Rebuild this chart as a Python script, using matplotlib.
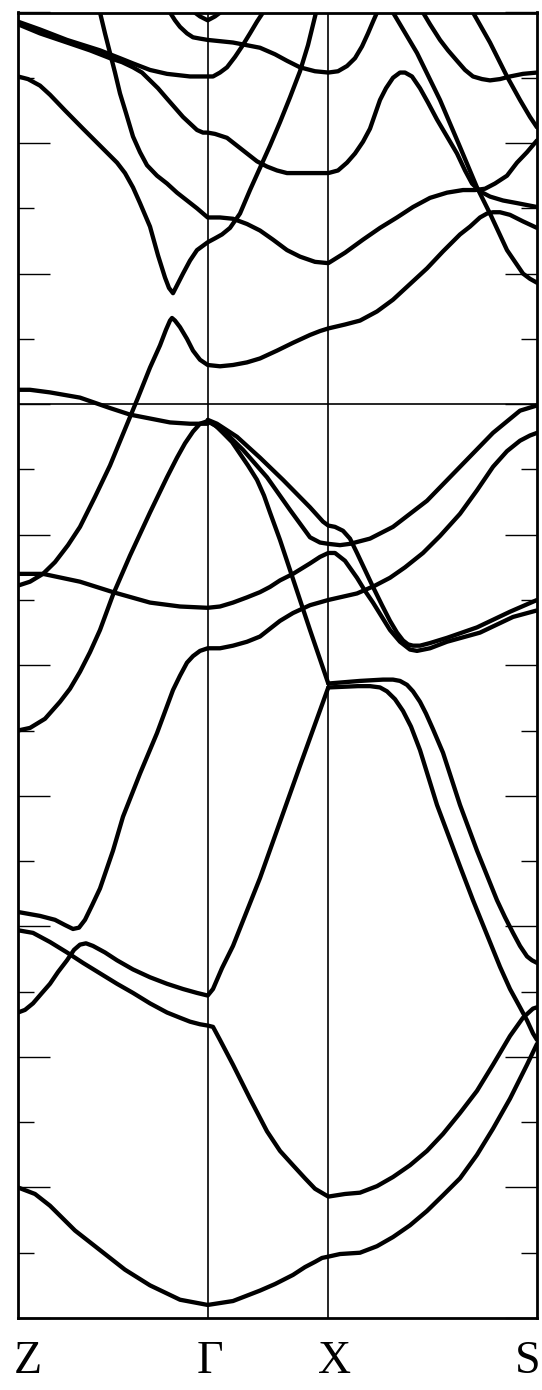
"""
Band structure along Z - Gamma - X - S, energies relative to E_F (eV).
Values read off the reference picture.
"""

import matplotlib
matplotlib.use("Agg")
import matplotlib.pyplot as plt
import matplotlib.ticker as ticker
import matplotlib.transforms as mtrans

# ── high-symmetry points (path coordinate) ──────────────────────────────────
K_POS    = [0.0, 1.897, 3.103, 5.19]
K_LABELS = ["Z", "Γ", "X", "S"]
E_MIN, E_MAX = -7.0, 3.0

# ── conduction bands ────────────────────────────────────────────────────────
cb_arc_k = [1.75, 1.82, 1.897, 1.97, 2.04]
cb_arc_e = [3.01, 2.97, 2.94, 2.97, 3.01]

cb_t2_k = [1.50, 1.52, 1.57, 1.62, 1.69, 1.75, 1.82, 1.897, 2.15, 2.42,
           2.57, 2.69, 2.82, 2.97, 3.103, 3.20, 3.29, 3.37, 3.44, 3.50,
           3.55, 3.59, 3.62]
cb_t2_e = [3.06, 3.00, 2.94, 2.89, 2.84, 2.81, 2.80, 2.79, 2.77, 2.73,
           2.68, 2.63, 2.58, 2.55, 2.54, 2.55, 2.59, 2.65, 2.74, 2.84,
           2.93, 3.00, 3.06]

cb_g77_k = [0, 0.22, 0.49, 0.82, 1.02, 1.15, 1.32, 1.49, 1.72, 1.897,
            1.95, 2.02, 2.09, 2.17, 2.24, 2.32, 2.39, 2.45, 2.48]
cb_g77_e = [2.93, 2.87, 2.79, 2.71, 2.65, 2.61, 2.56, 2.53, 2.51, 2.51,
            2.51, 2.54, 2.58, 2.66, 2.74, 2.84, 2.93, 3.00, 3.06]

cb_g133_k = [0, 0.22, 0.49, 0.72, 0.92, 1.04, 1.15, 1.24, 1.32, 1.40, 1.49,
             1.57, 1.65, 1.72, 1.79, 1.85, 1.897, 1.97, 2.09, 2.19, 2.29,
             2.39, 2.49, 2.59, 2.69, 2.92, 3.103, 3.20, 3.29, 3.37, 3.45,
             3.52, 3.62, 3.68, 3.75, 3.82, 3.87, 3.94, 4.02, 4.10, 4.19,
             4.29, 4.39, 4.47, 4.54, 4.62, 4.72, 4.85, 4.99, 5.19]
cb_g133_e = [2.91, 2.84, 2.77, 2.71, 2.65, 2.62, 2.58, 2.54, 2.48, 2.42,
             2.34, 2.27, 2.20, 2.15, 2.10, 2.08, 2.08, 2.07, 2.04, 1.98,
             1.92, 1.86, 1.82, 1.79, 1.77, 1.77, 1.77, 1.79, 1.85, 1.92,
             2.01, 2.11, 2.33, 2.42, 2.50, 2.54, 2.54, 2.51, 2.42, 2.31,
             2.18, 2.05, 1.92, 1.79, 1.69, 1.63, 1.59, 1.56, 1.54, 1.51]

cb_g217_k = [0.80, 0.82, 0.87, 0.92, 0.97, 1.02, 1.08, 1.15, 1.22, 1.29,
             1.39, 1.49, 1.59, 1.69, 1.79, 1.897, 2.02, 2.15, 2.29, 2.42,
             2.55, 2.69, 2.82, 2.97, 3.103, 3.27, 3.45, 3.62, 3.79, 3.95,
             4.12, 4.29, 4.45, 4.57, 4.67, 4.77, 4.89, 4.99, 5.09, 5.19]
cb_g217_e = [3.06, 3.00, 2.84, 2.69, 2.54, 2.38, 2.23, 2.05, 1.93, 1.83,
             1.75, 1.69, 1.62, 1.56, 1.50, 1.43, 1.43, 1.42, 1.38, 1.33,
             1.26, 1.18, 1.13, 1.09, 1.08, 1.16, 1.26, 1.35, 1.43, 1.51,
             1.58, 1.62, 1.64, 1.64, 1.65, 1.69, 1.75, 1.85, 1.93, 2.02]

cb_v_k = [0, 0.10, 0.22, 0.32, 0.47, 0.65, 0.82, 0.99, 1.07, 1.15, 1.22,
          1.32, 1.40, 1.47, 1.51, 1.55, 1.59, 1.65, 1.72, 1.79, 1.897,
          1.97, 2.04, 2.12, 2.22, 2.32, 2.42, 2.52, 2.62, 2.72, 2.82,
          2.90, 2.98, 3.00]
cb_v_e = [2.51, 2.49, 2.44, 2.37, 2.25, 2.11, 1.98, 1.85, 1.77, 1.66, 1.54,
          1.36, 1.14, 0.97, 0.89, 0.85, 0.91, 1.00, 1.10, 1.18, 1.24,
          1.27, 1.30, 1.35, 1.46, 1.64, 1.81, 1.98, 2.16, 2.35, 2.55,
          2.75, 3.00, 3.06]

cb_low_k = [0, 0.12, 0.25, 0.37, 0.50, 0.62, 0.77, 0.92, 1.06, 1.20, 1.32,
            1.42, 1.48, 1.52, 1.54, 1.57, 1.62, 1.69, 1.75, 1.82, 1.897,
            2.02, 2.15, 2.29, 2.42, 2.59, 2.75, 2.92, 3.02, 3.103, 3.27,
            3.42, 3.59, 3.75, 3.92, 4.09, 4.25, 4.42, 4.52, 4.62, 4.69,
            4.75, 4.82, 4.92, 5.05, 5.19]
cb_low_e = [-1.39, -1.36, -1.30, -1.21, -1.08, -0.94, -0.71, -0.47, -0.21,
            0.05, 0.28, 0.45, 0.57, 0.64, 0.66, 0.64, 0.59, 0.50, 0.41,
            0.34, 0.30, 0.29, 0.30, 0.32, 0.35, 0.41, 0.47, 0.53, 0.56,
            0.58, 0.61, 0.64, 0.71, 0.80, 0.92, 1.04, 1.17, 1.30, 1.36,
            1.43, 1.46, 1.47, 1.47, 1.45, 1.40, 1.35]

cb_s72_k = [4.02, 4.05, 4.12, 4.22, 4.30, 4.39, 4.47, 4.55, 4.64, 4.72,
            4.82, 4.92, 5.05, 5.19]
cb_s72_e = [3.06, 3.00, 2.91, 2.79, 2.71, 2.63, 2.56, 2.51, 2.49, 2.48,
            2.49, 2.51, 2.53, 2.54]

cb_s127_k = [4.52, 4.55, 4.72, 4.89, 5.02, 5.12, 5.19]
cb_s127_e = [3.06, 3.00, 2.77, 2.51, 2.33, 2.20, 2.12]

cb_s283_k = [3.72, 3.75, 3.99, 4.22, 4.42, 4.59, 4.72, 4.89, 5.05, 5.12,
             5.19]
cb_s283_e = [3.06, 3.00, 2.69, 2.33, 1.97, 1.66, 1.46, 1.18, 1.00, 0.96,
             0.93]

# ── valence bands ───────────────────────────────────────────────────────────
vb_z390_k = [0, 0.12, 0.32, 0.62, 0.92, 1.12, 1.32, 1.52, 1.72, 1.897]
vb_z390_e = [0.11, 0.11, 0.09, 0.05, -0.03, -0.08, -0.11, -0.14, -0.15,
             -0.15]

vb_z730_k = [0, 0.12, 0.27, 0.42, 0.52, 0.62, 0.72, 0.82, 0.95, 1.12, 1.32,
             1.49, 1.59, 1.67, 1.75, 1.82, 1.897]
vb_z730_e = [-2.50, -2.48, -2.41, -2.28, -2.18, -2.05, -1.90, -1.73, -1.46,
             -1.16, -0.83, -0.56, -0.41, -0.30, -0.21, -0.15, -0.13]

vb_z573_k = [0, 0.25, 0.62, 0.95, 1.32, 1.62, 1.897, 2.02, 2.15, 2.29, 2.42,
             2.52, 2.62, 2.75, 2.92, 3.02, 3.103, 3.17, 3.27, 3.39, 3.47,
             3.55, 3.72, 3.82, 3.92, 3.99, 4.12, 4.29, 4.62, 4.95, 5.19]
vb_z573_e = [-1.30, -1.30, -1.36, -1.44, -1.52, -1.55, -1.56, -1.55, -1.52,
             -1.48, -1.44, -1.40, -1.35, -1.30, -1.22, -1.17, -1.14, -1.14,
             -1.20, -1.33, -1.43, -1.52, -1.73, -1.82, -1.88, -1.89, -1.87,
             -1.82, -1.75, -1.63, -1.58]

vb_a_k = [1.897, 1.99, 2.19, 2.42, 2.65, 2.92, 3.05, 3.103, 3.17, 3.25,
          3.32, 3.39, 3.47, 3.55, 3.64, 3.72, 3.79, 3.85, 3.90, 3.95, 4.02,
          4.12, 4.29, 4.59, 4.92, 5.19]
vb_a_e = [-0.12, -0.15, -0.25, -0.41, -0.58, -0.79, -0.90, -0.93, -0.94,
          -0.97, -1.03, -1.14, -1.27, -1.40, -1.54, -1.66, -1.75, -1.81,
          -1.84, -1.85, -1.85, -1.83, -1.79, -1.71, -1.59, -1.50]

vb_b_k = [1.897, 2.05, 2.25, 2.49, 2.72, 2.92, 3.02, 3.103, 3.22, 3.32,
          3.52, 3.75, 4.09, 4.42, 4.75, 5.02, 5.19]
vb_b_e = [-0.13, -0.20, -0.35, -0.56, -0.81, -1.02, -1.06, -1.07, -1.08,
          -1.07, -1.03, -0.94, -0.74, -0.48, -0.22, -0.05, -0.01]

vb_e_k = [1.897, 1.97, 2.05, 2.14, 2.22, 2.30, 2.39, 2.46, 2.52, 2.62,
          2.72, 2.92, 3.103]
vb_e_e = [-0.13, -0.16, -0.22, -0.29, -0.38, -0.47, -0.58, -0.70, -0.83,
          -1.04, -1.27, -1.73, -2.14]

vb_d_k = [0, 0.22, 0.37, 0.47, 0.55, 0.61, 0.67, 0.74, 0.82, 0.95, 1.05,
          1.22, 1.39, 1.55, 1.62, 1.69, 1.75, 1.82, 1.897, 2.02, 2.15,
          2.29, 2.42, 2.52, 2.62, 2.75, 2.92, 3.103, 3.39, 3.57, 3.72,
          3.87, 4.05, 4.22, 4.42, 4.59, 4.75, 4.89, 5.02, 5.12, 5.19]
vb_d_e = [-3.89, -3.92, -3.95, -3.99, -4.02, -4.01, -3.95, -3.84, -3.71,
          -3.42, -3.16, -2.83, -2.52, -2.19, -2.08, -1.98, -1.93, -1.89,
          -1.87, -1.87, -1.85, -1.82, -1.78, -1.72, -1.66, -1.60, -1.54,
          -1.50, -1.45, -1.39, -1.33, -1.25, -1.14, -1.01, -0.84, -0.66,
          -0.48, -0.36, -0.28, -0.24, -0.22]

vb_f1_k = [3.103, 3.42, 3.65, 3.75, 3.82, 3.89, 3.95, 4.02, 4.08, 4.15,
           4.25, 4.42, 4.59, 4.79, 4.87, 4.95, 5.02, 5.09, 5.14, 5.19]
vb_f1_e = [-2.14, -2.12, -2.11, -2.11, -2.12, -2.15, -2.20, -2.28, -2.37,
           -2.49, -2.67, -3.07, -3.42, -3.80, -3.93, -4.05, -4.15, -4.23,
           -4.26, -4.28]

vb_f2_k = [3.103, 3.40, 3.52, 3.62, 3.69, 3.77, 3.85, 3.93, 4.02, 4.19,
           4.42, 4.55, 4.82, 4.92, 5.02, 5.09, 5.15, 5.19]
vb_f2_e = [-2.17, -2.16, -2.16, -2.17, -2.20, -2.26, -2.35, -2.47, -2.65,
           -3.07, -3.54, -3.80, -4.31, -4.48, -4.62, -4.72, -4.82, -4.87]

vb_g_k = [0, 0.07, 0.15, 0.24, 0.32, 0.40, 0.49, 0.56, 0.62, 0.68, 0.75,
          0.87, 0.99, 1.15, 1.32, 1.49, 1.65, 1.79, 1.897, 1.95, 2.04,
          2.15, 2.42, 2.62, 2.82, 3.103]
vb_g_e = [-4.66, -4.64, -4.59, -4.51, -4.44, -4.35, -4.26, -4.18, -4.14,
          -4.13, -4.15, -4.20, -4.26, -4.33, -4.39, -4.44, -4.48, -4.51,
          -4.53, -4.48, -4.32, -4.15, -3.63, -3.20, -2.77, -2.17]

vb_h_k = [0, 0.15, 0.32, 0.49, 0.65, 0.82, 0.99, 1.15, 1.32, 1.49, 1.62,
          1.72, 1.82, 1.897, 1.95, 2.02, 2.15, 2.32, 2.49, 2.62, 2.75,
          2.87, 2.97, 3.103, 3.27, 3.42, 3.59, 3.75, 3.92, 4.09, 4.25,
          4.42, 4.59, 4.75, 4.92, 5.05, 5.15, 5.19]
vb_h_e = [-4.03, -4.05, -4.12, -4.20, -4.28, -4.36, -4.44, -4.51, -4.59,
          -4.66, -4.70, -4.73, -4.75, -4.76, -4.77, -4.87, -5.06, -5.32,
          -5.57, -5.72, -5.83, -5.93, -6.01, -6.07, -6.05, -6.04, -5.99,
          -5.92, -5.83, -5.72, -5.59, -5.43, -5.26, -5.06, -4.84, -4.70,
          -4.63, -4.62]

vb_low_k = [0, 0.17, 0.32, 0.57, 0.82, 1.07, 1.32, 1.62, 1.897, 2.15, 2.42,
            2.57, 2.75, 2.87, 2.97, 3.04, 3.103, 3.22, 3.42, 3.59, 3.75,
            3.92, 4.09, 4.25, 4.42, 4.59, 4.75, 4.92, 5.09, 5.19]
vb_low_e = [-6.00, -6.05, -6.14, -6.33, -6.48, -6.63, -6.75, -6.86, -6.90,
            -6.87, -6.79, -6.74, -6.67, -6.61, -6.57, -6.54, -6.53, -6.51,
            -6.50, -6.45, -6.38, -6.29, -6.18, -6.06, -5.93, -5.75, -5.55,
            -5.32, -5.06, -4.90]

BANDS = [
    (cb_arc_k, cb_arc_e), (cb_t2_k, cb_t2_e), (cb_g77_k, cb_g77_e),
    (cb_g133_k, cb_g133_e), (cb_g217_k, cb_g217_e), (cb_v_k, cb_v_e),
    (cb_low_k, cb_low_e), (cb_s72_k, cb_s72_e), (cb_s127_k, cb_s127_e),
    (cb_s283_k, cb_s283_e),
    (vb_z390_k, vb_z390_e), (vb_z730_k, vb_z730_e), (vb_z573_k, vb_z573_e),
    (vb_a_k, vb_a_e), (vb_b_k, vb_b_e), (vb_e_k, vb_e_e), (vb_d_k, vb_d_e),
    (vb_f1_k, vb_f1_e), (vb_f2_k, vb_f2_e), (vb_g_k, vb_g_e),
    (vb_h_k, vb_h_e), (vb_low_k, vb_low_e),
]

# label nudges in pixels (reference keeps Z and S inside the frame)
LABEL_DX = [10, 2, 6, -9]

fig = plt.figure(figsize=(5.42, 13.9), dpi=100)
ax = fig.add_axes([18 / 542, 72 / 1390, 519 / 542, 1305.5 / 1390])

for k, e in BANDS:
    ax.plot(k, e, color="black", lw=3.1, solid_joinstyle="round",
            solid_capstyle="round")

for kp in K_POS[1:-1]:
    ax.axvline(kp, color="black", lw=1.2)
ax.axhline(0.0, color="black", lw=1.2)

ax.set_xlim(K_POS[0], K_POS[-1])
ax.set_ylim(E_MIN, E_MAX)

ax.yaxis.set_major_locator(ticker.MultipleLocator(1.0))
ax.yaxis.set_minor_locator(ticker.MultipleLocator(0.5))
ax.tick_params(axis="y", which="both", direction="in", left=True,
               right=True, labelleft=False, labelright=False)
ax.tick_params(axis="y", which="major", length=23, width=1.0)
ax.tick_params(axis="y", which="minor", length=11.5, width=1.0)

ax.set_xticks(K_POS)
ax.set_xticklabels(K_LABELS, fontfamily="Liberation Serif", fontsize=33)
ax.tick_params(axis="x", length=0, pad=16)
for lab, dx in zip(ax.get_xticklabels(), LABEL_DX):
    lab.set_transform(lab.get_transform() +
                      mtrans.ScaledTranslation(dx / 100, 0, fig.dpi_scale_trans))

for sp in ax.spines.values():
    sp.set_linewidth(2.0)

fig.savefig("out.png", dpi=100)
